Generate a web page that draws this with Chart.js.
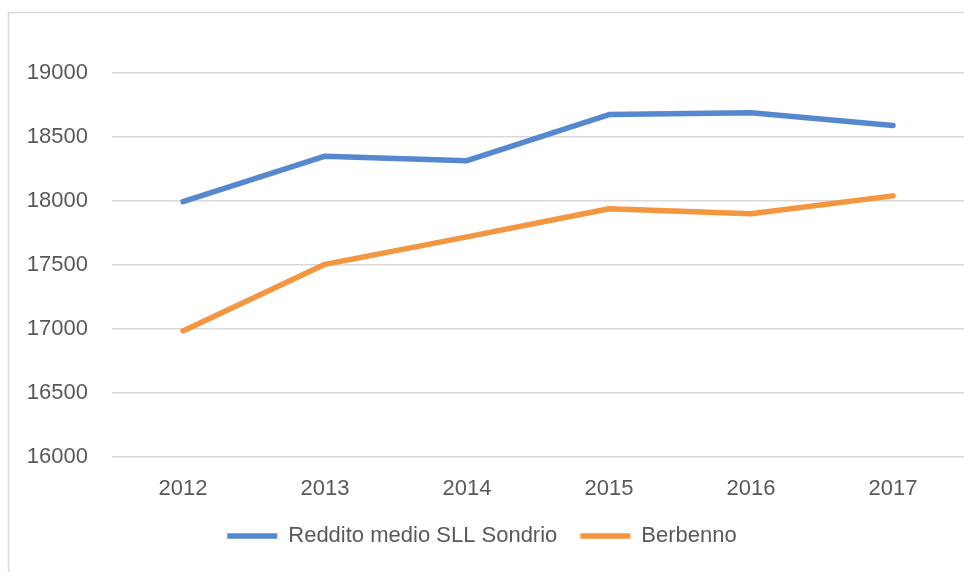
<!DOCTYPE html>
<html>
<head>
<meta charset="utf-8">
<script src="https://cdn.jsdelivr.net/npm/chart.js@4.4.1/dist/chart.umd.min.js"></script>
<style>
  html, body { margin: 0; padding: 0; background: #ffffff; overflow: hidden; }
  #wrap { position: absolute; left: 0; top: 0; width: 986px; height: 572px; }
</style>
</head>
<body>
<div id="wrap"><canvas id="c" width="986" height="572"></canvas></div>
<script>
const years = ['2012', '2013', '2014', '2015', '2016', '2017'];
const sondrio = [17995, 18350, 18315, 18675, 18690, 18590];
const berbenno = [16985, 17505, 17720, 17940, 17900, 18040];
const seriesNames = ['Reddito medio SLL Sondrio', 'Berbenno'];
const yMin = 16000, yMax = 19000, yStep = 500;

const FONT = 'Liberation Sans, Arial, sans-serif';
const TEXT = '#595959';
const GRID = '#d9d9d9';

const frame = {
  id: 'frame',
  beforeDraw(chart) {
    const ctx = chart.ctx;
    ctx.save();
    ctx.fillStyle = '#ffffff';
    ctx.fillRect(0, 0, chart.width, chart.height);
    ctx.strokeStyle = GRID;
    ctx.lineWidth = 1.5;
    ctx.strokeRect(8.5, 12.5, 978, 620);
    ctx.restore();
  }
};

new Chart(document.getElementById('c'), {
  type: 'line',
  data: {
    labels: years,
    datasets: [
      {
        label: seriesNames[0],
        data: sondrio,
        borderColor: '#5588CF',
        backgroundColor: '#5588CF',
        borderWidth: 5.5,
        borderCapStyle: 'round',
        borderJoinStyle: 'round',
        pointRadius: 0,
        tension: 0
      },
      {
        label: seriesNames[1],
        data: berbenno,
        borderColor: '#F4953F',
        backgroundColor: '#F4953F',
        borderWidth: 5.5,
        borderCapStyle: 'round',
        borderJoinStyle: 'round',
        pointRadius: 0,
        tension: 0
      }
    ]
  },
  options: {
    responsive: false,
    animation: false,
    devicePixelRatio: 1,
    layout: { padding: { left: 0, right: 22, top: 73, bottom: 15 } },
    plugins: {
      tooltip: { enabled: false },
      legend: {
        position: 'bottom',
        labels: {
          usePointStyle: true,
          pointStyle: 'line',
          pointStyleWidth: 50,
          padding: 23,
          color: TEXT,
          font: { family: FONT, size: 22 }
        }
      }
    },
    scales: {
      x: {
        offset: true,
        grid: { display: false, drawTicks: false },
        border: { display: false },
        ticks: { color: TEXT, padding: 19, font: { family: FONT, size: 22 } },
        afterFit: (s) => { s.height = 45; }
      },
      y: {
        min: yMin,
        max: yMax,
        grid: { color: GRID, lineWidth: 1.5, drawTicks: false },
        border: { display: false },
        ticks: {
          stepSize: yStep,
          padding: 24,
          color: TEXT,
          font: { family: FONT, size: 22 },
          callback: (v) => String(v)
        },
        afterFit: (s) => { s.width = 112; }
      }
    }
  },
  plugins: [frame]
});
</script>
</body>
</html>
